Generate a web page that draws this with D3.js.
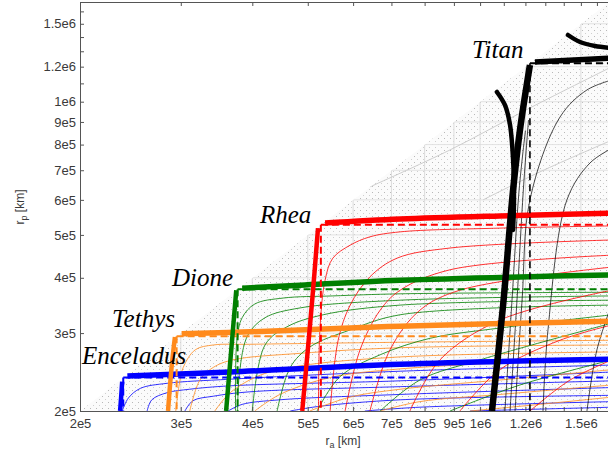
<!DOCTYPE html>
<html><head><meta charset="utf-8">
<script src="https://cdn.jsdelivr.net/npm/d3@7"></script>
<style>body{margin:0;background:#fff}svg{display:block}</style>
</head><body>
<svg id="c" width="608" height="459"></svg>
<script>
// ---------- data ----------
const tickValues = [2e5,3e5,4e5,5e5,6e5,7e5,8e5,9e5,1e6,1.2e6,1.5e6];
const tickLabels = ["2e5","3e5","4e5","5e5","6e5","7e5","8e5","9e5","1e6","1.2e6","1.5e6"];
const minorTicks = [1.1e6,1.3e6,1.4e6,1.6e6];
const moonNames = ["Enceladus","Tethys","Dione","Rhea","Titan"];
const moonRadii = [2.38e5,2.95e5,3.77e5,5.27e5,1.222e6];

const enceladusThickH = [[2.42e5,2.40e5],[3.66e5,2.45e5],[7.25e5,2.55e5],[1.7e6,2.62e5]];
const enceladusThickV = [[2.37e5,2.33e5],[2.36e5,2.15e5],[2.35e5,2.0e5]];
const tethysThickH = [[3.01e5,2.99e5],[3.96e5,3.02e5],[7.25e5,3.11e5],[1.7e6,3.19e5]];
const tethysThickV = [[2.93e5,2.94e5],[2.89e5,2.5e5],[2.85e5,2.0e5]];
const dioneThickH = [[3.84e5,3.79e5],[4.85e5,3.85e5],[7.25e5,3.95e5],[1.7e6,4.06e5]];
const dioneThickV = [[3.75e5,3.75e5],[3.70e5,3.05e5],[3.60e5,2.0e5]];
const rheaThickH = [[5.36e5,5.32e5],[7.25e5,5.43e5],[1.083e6,5.52e5],[1.7e6,5.60e5]];
const rheaThickV = [[5.21e5,5.18e5],[5.09e5,3.56e5],[4.89e5,2.0e5]];
const titanThickH = [[1.247e6,1.23e6],[1.7e6,1.255e6]];
const titanThickV = [[1.222e6,1.21e6],[1.174e6,8.63e5],[1.142e6,6.32e5],[1.097e6,3.47e5],[1.049e6,2.0e5]];
const titanThickBranch = [[1.070e6,1.052e6],[1.105e6,9.83e5],[1.128e6,8.86e5],[1.142e6,7.38e5],[1.146e6,6.0e5],[1.142e6,5.13e5]];
const titanThickArc = [[1.424e6,1.415e6],[1.495e6,1.364e6],[1.588e6,1.336e6],[1.7e6,1.322e6]];

const enceladusThin = [
 [[2.37e5,2.0e5],[2.43e5,2.14e5],[2.55e5,2.25e5],[2.84e5,2.31e5],[3.66e5,2.36e5],[7.25e5,2.46e5],[1.7e6,2.54e5]],
 [[2.62e5,2.0e5],[2.67e5,2.12e5],[2.84e5,2.20e5],[3.11e5,2.24e5],[3.66e5,2.28e5],[7.25e5,2.34e5],[1.7e6,2.45e5]],
 [[3.05e5,2.0e5],[3.15e5,2.11e5],[3.42e5,2.16e5],[3.96e5,2.21e5],[7.25e5,2.27e5],[1.7e6,2.34e5]],
 [[3.63e5,2.0e5],[3.84e5,2.07e5],[4.47e5,2.12e5],[7.25e5,2.18e5],[1.7e6,2.26e5]],
 [[4.66e5,2.0e5],[5.25e5,2.05e5],[7.25e5,2.12e5],[1.7e6,2.17e5]],
 [[6.29e5,2.0e5],[7.85e5,2.04e5],[1.7e6,2.10e5]],
 [[9.6e5,2.0e5],[1.272e6,2.02e5],[1.7e6,2.04e5]]
];
const tethysThin = [
 [[2.94e5,2.0e5],[2.98e5,2.29e5],[3.03e5,2.51e5],[3.18e5,2.75e5],[3.42e5,2.82e5],[3.96e5,2.83e5],[7.25e5,2.86e5],[1.7e6,2.89e5]],
 [[3.11e5,2.0e5],[3.24e5,2.35e5],[3.42e5,2.51e5],[3.70e5,2.61e5],[4.85e5,2.70e5],[7.25e5,2.78e5],[1.7e6,2.82e5]],
 [[3.44e5,2.0e5],[3.66e5,2.20e5],[4.13e5,2.41e5],[4.85e5,2.53e5],[7.25e5,2.65e5],[1.7e6,2.72e5]],
 [[4.04e5,2.0e5],[4.47e5,2.18e5],[5.47e5,2.38e5],[7.25e5,2.49e5],[1.7e6,2.64e5]],
 [[5.04e5,2.0e5],[5.93e5,2.15e5],[7.25e5,2.24e5],[1.083e6,2.35e5],[1.7e6,2.48e5]],
 [[6.69e5,2.0e5],[7.85e5,2.10e5],[1.083e6,2.18e5],[1.7e6,2.29e5]],
 [[9.6e5,2.0e5],[1.222e6,2.06e5],[1.7e6,2.15e5]]
];
const dioneThin = [
 [[3.74e5,2.0e5],[3.76e5,2.89e5],[3.84e5,3.25e5],[4.04e5,3.49e5],[4.53e5,3.60e5],[5.53e5,3.64e5],[7.25e5,3.68e5],[1.7e6,3.71e5]],
 [[3.77e5,2.0e5],[3.80e5,2.45e5],[3.93e5,2.97e5],[4.21e5,3.25e5],[4.85e5,3.42e5],[7.25e5,3.56e5],[1.7e6,3.64e5]],
 [[4.0e5,2.0e5],[4.21e5,2.82e5],[4.60e5,3.10e5],[5.32e5,3.30e5],[7.25e5,3.47e5],[1.7e6,3.56e5]],
 [[4.42e5,2.0e5],[4.66e5,2.51e5],[5.04e5,2.79e5],[5.93e5,3.05e5],[7.25e5,3.30e5],[1.7e6,3.47e5]],
 [[5.19e5,2.0e5],[5.69e5,2.39e5],[6.69e5,2.68e5],[8.18e5,2.92e5],[1.083e6,3.08e5],[1.7e6,3.30e5]],
 [[6.69e5,2.0e5],[7.85e5,2.35e5],[1.0e6,2.61e5],[1.7e6,3.16e5]],
 [[8.86e5,2.0e5],[1.174e6,2.29e5],[1.7e6,2.61e5]]
];
const rheaThin = [
 [[5.22e5,2.0e5],[5.25e5,3.05e5],[5.36e5,3.95e5],[5.53e5,4.43e5],[5.93e5,4.74e5],[6.42e5,4.95e5],[7.25e5,5.08e5],[1.083e6,5.18e5],[1.7e6,5.24e5]],
 [[5.47e5,2.0e5],[5.65e5,2.89e5],[5.93e5,3.47e5],[6.42e5,4.02e5],[7.16e5,4.43e5],[8.86e5,4.67e5],[1.7e6,4.87e5]],
 [[5.81e5,2.0e5],[6.17e5,2.75e5],[6.69e5,3.38e5],[7.25e5,3.75e5],[8.86e5,4.17e5],[1.7e6,4.50e5]],
 [[6.42e5,2.0e5],[6.96e5,2.75e5],[7.85e5,3.38e5],[9.22e5,3.75e5],[1.7e6,4.23e5]],
 [[7.54e5,2.0e5],[8.51e5,2.61e5],[1.083e6,3.21e5],[1.7e6,3.75e5]],
 [[9.22e5,2.0e5],[1.083e6,2.48e5],[1.379e6,2.89e5],[1.7e6,3.13e5]],
 [[1.222e6,2.0e5],[1.436e6,2.35e5],[1.7e6,2.61e5]]
];
const titanThin = [
 [[1.105e6,2.0e5],[1.137e6,3.56e5],[1.170e6,6.32e5],[1.200e6,8.6e5]],
 [[1.128e6,2.0e5],[1.160e6,3.56e5],[1.190e6,6.32e5],[1.215e6,9.09e5]],
 [[1.151e6,2.0e5],[1.184e6,3.56e5],[1.222e6,6.0e5],[1.379e6,9.23e5],[1.537e6,1.063e6],[1.7e6,1.12e6]],
 [[1.288e6,2.0e5],[1.314e6,3.05e5],[1.418e6,6.0e5],[1.556e6,7.27e5],[1.7e6,7.85e5]],
 [[1.537e6,2.0e5],[1.60e6,2.75e5],[1.7e6,3.5e5]]
];
const grayCurves = [
 [[6.42e5,6.42e5],[8.86e5,7.78e5],[1.222e6,9.68e5],[1.7e6,1.2e6]],
 [[1.012e6,6.0e5],[1.272e6,6.94e5],[1.7e6,8.19e5]]
];

// ---------- setup ----------
const svg = d3.select("#c");
const x = d3.scaleLog().domain([2e5,1.7e6]).range([80,612]);
const y = d3.scaleLog().domain([2e5,1.68e6]).range([411,2]);
const [x0,x1] = x.range(), [y0,y1] = y.range();

const defs = svg.append("defs");
defs.append("clipPath").attr("id","plot").append("rect")
  .attr("x",x0).attr("y",y1).attr("width",x1-x0).attr("height",y0-y1);
const region = [[2e5,2e5],[1.7e6,1.7e6],[1.7e6,2e5]];
const polyPath = "M" + region.map(d=>[x(d[0]),y(d[1])].join(",")).join("L") + "Z";
defs.append("clipPath").attr("id","region").append("path").attr("d",polyPath);
const pat = defs.append("pattern").attr("id","dots").attr("patternUnits","userSpaceOnUse")
  .attr("width",6).attr("height",6);
pat.append("rect").attr("x",0).attr("y",0).attr("width",1).attr("height",1).attr("fill","#b8b8b8");
pat.append("rect").attr("x",3).attr("y",3).attr("width",1).attr("height",1).attr("fill","#cfcfcf");

const plot = svg.append("g").attr("clip-path","url(#plot)");
const regionG = plot.append("g").attr("clip-path","url(#region)");
regionG.append("path").attr("d",polyPath).attr("fill","#fbfbfb");
regionG.append("path").attr("d",polyPath).attr("fill","url(#dots)");

// grid inside feasible region
tickValues.slice(1).forEach(v=>{
  regionG.append("line").attr("x1",x(v)).attr("x2",x(v)).attr("y1",y(v)).attr("y2",y0)
    .attr("stroke","#dcdcdc").attr("stroke-width",1);
  regionG.append("line").attr("x1",x(v)).attr("x2",x1).attr("y1",y(v)).attr("y2",y(v))
    .attr("stroke","#e2e2e2").attr("stroke-width",1);
});
const smooth = d3.line().x(d=>x(d[0])).y(d=>y(d[1])).curve(d3.curveCatmullRom.alpha(0.5));
const straight = d3.line().x(d=>x(d[0])).y(d=>y(d[1]));
grayCurves.forEach(c=>regionG.append("path").attr("d",smooth(c)).attr("fill","none")
  .attr("stroke","#cdcdcd").attr("stroke-width",1));

const colors = ["#0000ff","#ff8a1c","#007f00","#ff0000","#000000"];
const thinSets = [enceladusThin,tethysThin,dioneThin,rheaThin,titanThin];
const thickH = [enceladusThickH,tethysThickH,dioneThickH,rheaThickH,titanThickH];
const thickV = [enceladusThickV,tethysThickV,dioneThickV,rheaThickV,titanThickV];

// thin curves
thinSets.forEach((set,i)=>set.forEach(c=>plot.append("path").attr("d",smooth(c))
  .attr("fill","none").attr("stroke",colors[i]).attr("stroke-width",i===4?0.9:1).attr("opacity",0.8)));

// dashed + thick per moon
moonRadii.forEach((R,i)=>{
  plot.append("path").attr("d",straight([[R,R],[1.7e6,R]])).attr("fill","none")
    .attr("stroke",colors[i]).attr("stroke-width",2).attr("stroke-dasharray","7,4");
  plot.append("path").attr("d",straight([[R,R],[R,2e5]])).attr("fill","none")
    .attr("stroke",colors[i]).attr("stroke-width",i===4?1.6:2).attr("stroke-dasharray","7,4");
  plot.append("path").attr("d",smooth(thickH[i])).attr("fill","none")
    .attr("stroke",colors[i]).attr("stroke-width",5.5).attr("stroke-linecap","butt");
  plot.append("path").attr("d",smooth(thickV[i])).attr("fill","none")
    .attr("stroke",colors[i]).attr("stroke-width",i===4?6.5:4.5);
});
[titanThickBranch,titanThickArc].forEach(c=>plot.append("path").attr("d",smooth(c)).attr("fill","none")
  .attr("stroke","#000").attr("stroke-width",4.5).attr("stroke-linecap","round"));

// ---------- labels ----------
const labelPos = [[82,364],[112,327],[172,286],[260,223],[472,58]];
moonNames.forEach((n,i)=>svg.append("text").attr("x",labelPos[i][0]).attr("y",labelPos[i][1])
  .attr("font-family","'Liberation Serif','Times New Roman',serif").attr("font-style","italic")
  .attr("font-size",25).attr("fill","#000").text(n));

// ---------- axes ----------
const fmt = d=>tickLabels[tickValues.indexOf(d)];
const axStyle = g=>{
  g.selectAll("path.domain").attr("stroke","#555");
  g.selectAll(".tick line").attr("stroke","#555");
  g.selectAll("text").attr("font-family","'Liberation Sans',Arial,sans-serif").attr("font-size",13).attr("fill","#3a3a3a");
};
svg.append("g").attr("transform",`translate(${x0},0)`)
  .call(d3.axisLeft(y).tickValues(tickValues).tickFormat(fmt).tickSize(-4).tickPadding(4).tickSizeOuter(0)).call(axStyle);
svg.append("g").attr("transform",`translate(${x0},0)`)
  .call(d3.axisLeft(y).tickValues(minorTicks).tickFormat("").tickSize(-4).tickSizeOuter(0)).call(axStyle);
svg.append("g").attr("transform",`translate(0,${y0})`)
  .call(d3.axisBottom(x).tickValues(tickValues).tickFormat(fmt).tickSize(-4).tickPadding(8).tickSizeOuter(0)).call(axStyle);
svg.append("g").attr("transform",`translate(0,${y0})`)
  .call(d3.axisBottom(x).tickValues(minorTicks).tickFormat("").tickSize(-4).tickSizeOuter(0)).call(axStyle);
svg.append("g").attr("transform",`translate(0,${y1})`)
  .call(d3.axisTop(x).tickValues(tickValues.concat(minorTicks)).tickFormat("").tickSize(-4).tickSizeOuter(0)).call(axStyle);

// axis titles
const yt = svg.append("text").attr("transform","translate(24,207) rotate(-90)").attr("text-anchor","middle")
  .attr("font-family","'Liberation Sans',Arial,sans-serif").attr("font-size",12).attr("fill","#3a3a3a");
yt.append("tspan").text("r");
yt.append("tspan").attr("font-size",9).attr("dy",3).text("p");
yt.append("tspan").attr("dy",-3).text(" [km]");
const xt = svg.append("text").attr("x",343).attr("y",445).attr("text-anchor","middle")
  .attr("font-family","'Liberation Sans',Arial,sans-serif").attr("font-size",12).attr("fill","#3a3a3a");
xt.append("tspan").text("r");
xt.append("tspan").attr("font-size",9).attr("dy",3).text("a");
xt.append("tspan").attr("dy",-3).text(" [km]");
</script>
</body></html>
